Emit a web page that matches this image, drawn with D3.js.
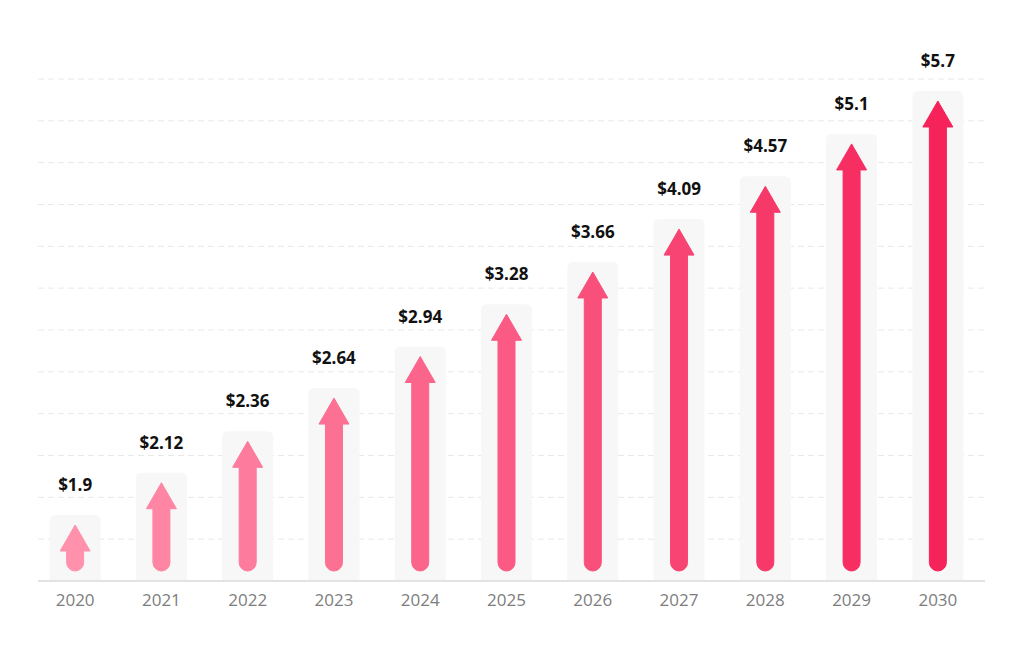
<!DOCTYPE html>
<html>
<head>
<meta charset="utf-8">
<script src="https://cdn.jsdelivr.net/npm/d3@7"></script>
<style>
  body { margin: 0; background: #fff; }
  svg { display: block; font-family: "Open Sans", sans-serif; }
</style>
</head>
<body>
<div id="chart"></div>
<script>
// data
const years = ["2020", "2021", "2022", "2023", "2024", "2025", "2026", "2027", "2028", "2029", "2030"]
const values = [1.9, 2.12, 2.36, 2.64, 2.94, 3.28, 3.66, 4.09, 4.57, 5.1, 5.7]
const valueLabels = ["$1.9", "$2.12", "$2.36", "$2.64", "$2.94", "$3.28", "$3.66", "$4.09", "$4.57", "$5.1", "$5.7"]
const gridSteps = d3.range(1, 13) // 12 dashed lines

const width = 1024, height = 650
const baseY = 581

const svg = d3.select("#chart").append("svg")
    .attr("width", width)
    .attr("height", height)

const x = d3.scaleBand()
    .domain(years)
    .range([32, 981])

// bar heights grow roughly with the log of the value
const y = d3.scaleLog()
    .domain([1.9, 5.7])
    .range([515, 91])

const gy = d3.scaleLinear()
    .domain([0, 12])
    .range([baseY, 79])

const color = d3.scaleLinear()
    .domain([0, years.length - 1])
    .range(["#ff91ac", "#f5235a"])
    .interpolate(d3.interpolateRgb)

// grid
svg.append("g").selectAll("line")
    .data(gridSteps)
    .join("line")
    .attr("x1", 38)
    .attr("x2", 985)
    .attr("y1", d => gy(d))
    .attr("y2", d => gy(d))
    .attr("stroke", "#e8e8e8")
    .attr("stroke-width", 1)
    .attr("stroke-dasharray", "6,4")

const data = years.map((yr, i) => ({ year: yr, value: values[i], label: valueLabels[i], i: i }))

const panelW = 51, headW = 30, headH = 26, shaftW = 17

const g = svg.append("g").selectAll("g")
    .data(data)
    .join("g")
    .attr("transform", d => `translate(${x(d.year) + x.bandwidth() / 2},0)`)

// light background panel
g.append("path")
    .attr("d", d => {
        const top = y(d.value), r = 6, w = panelW / 2
        return `M${-w},${baseY} L${-w},${top + r} Q${-w},${top} ${-w + r},${top} L${w - r},${top} Q${w},${top} ${w},${top + r} L${w},${baseY} Z`
    })
    .attr("fill", "#f7f7f7")

// arrow
g.append("path")
    .attr("d", d => {
        const tip = y(d.value) + 10
        const hb = tip + headH
        const bottom = baseY - 10
        const s = shaftW / 2, h = headW / 2, r = s
        return `M0,${tip} L${h},${hb} L${s},${hb} L${s},${bottom - r} A${r},${r} 0 0 1 ${-s},${bottom - r} L${-s},${hb} L${-h},${hb} Z`
    })
    .attr("fill", d => color(d.i))
    .attr("stroke", d => color(d.i))
    .attr("stroke-width", 1)
    .attr("stroke-linejoin", "round")

// value labels
g.append("text")
    .attr("y", d => y(d.value) - 24)
    .attr("text-anchor", "middle")
    .attr("font-size", 17)
    .attr("font-weight", 700)
    .attr("fill", "#111")
    .text(d => d.label)

// baseline
svg.append("line")
    .attr("x1", 38)
    .attr("x2", 985)
    .attr("y1", baseY)
    .attr("y2", baseY)
    .attr("stroke", "#e3e3e3")
    .attr("stroke-width", 2)

// year labels
svg.append("g").selectAll("text")
    .data(years)
    .join("text")
    .attr("x", d => x(d) + x.bandwidth() / 2)
    .attr("y", 606)
    .attr("text-anchor", "middle")
    .attr("font-size", 17)
    .attr("fill", "#7d7d7d")
    .text(d => d)
</script>
</body>
</html>
